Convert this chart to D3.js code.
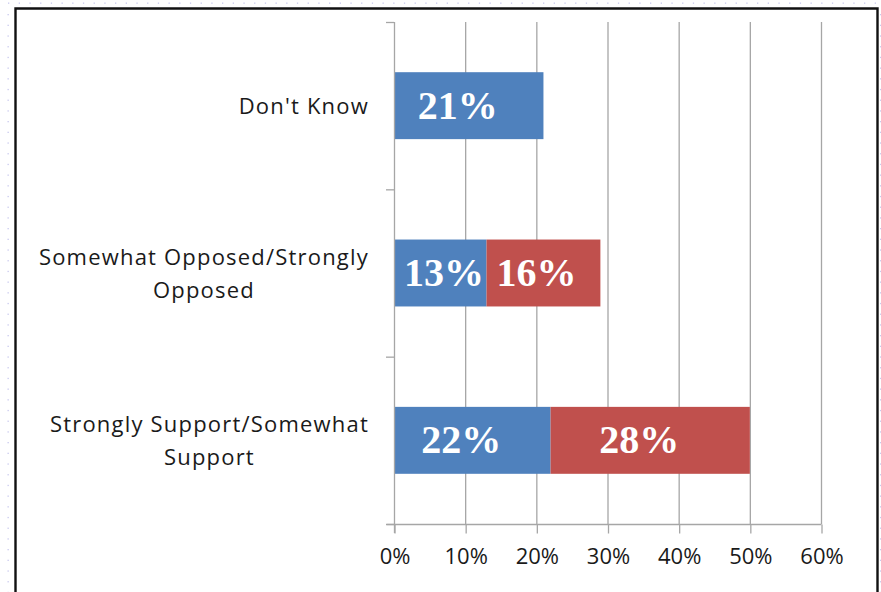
<!DOCTYPE html>
<html>
<head>
<meta charset="utf-8">
<script src="https://cdn.jsdelivr.net/npm/d3@7"></script>
<style>
  html, body { margin: 0; padding: 0; background: #fff; }
  svg { display: block; }
</style>
</head>
<body>
<svg id="chart" width="881" height="592"></svg>
<script>
// Survey responses, top to bottom
const categories = [
  "Don't Know",
  "Somewhat Opposed/Strongly Opposed",
  "Strongly Support/Somewhat Support"
];
// First-named answer of each pair (blue) and second-named answer (red), in %
const firstShare  = [21, 13, 22];
const secondShare = [0, 16, 28];
const tickValues  = [0, 10, 20, 30, 40, 50, 60];

const blue = "#4F81BD", red = "#C0504D", gridColor = "#A6A6A6";

const svg = d3.select("#chart");
const W = 881, H = 592;

// Faint dotted page guides outside the frame
const dots = svg.append("g").attr("fill", "#C9C9EE");
for (let x = 8; x < W; x += 10.7) dots.append("rect").attr("x", x).attr("y", 2.5).attr("width", 1.3).attr("height", 1.3);
for (let y = 14; y < H; y += 10.7) {
  dots.append("rect").attr("x", 7.5).attr("y", y).attr("width", 1.3).attr("height", 1.3);
  dots.append("rect").attr("x", 880).attr("y", y).attr("width", 1).attr("height", 1.3);
}

// Chart frame
svg.append("path")
  .attr("d", `M15.5,${H + 5} V8.5 H877.5 V${H + 5}`)
  .attr("fill", "none").attr("stroke", "#111").attr("stroke-width", 2.4);

const plot = { left: 394, right: 821, top: 22, bottom: 524 };

const x = d3.scaleLinear().domain([0, 60]).range([plot.left, plot.right]);
const y = d3.scaleBand().domain(categories).range([plot.top, plot.bottom])
  .paddingInner(0.6).paddingOuter(0.3);
const step = y.step();

// Vertical gridlines
svg.append("g").selectAll("line").data(tickValues.slice(1)).join("line")
  .attr("x1", d => x(d) + 0.5).attr("x2", d => x(d) + 0.5)
  .attr("y1", plot.top).attr("y2", plot.bottom)
  .attr("stroke", gridColor).attr("stroke-width", 1.3);

// Bars
const rows = categories.map((c, i) => ({ c, a: firstShare[i], b: secondShare[i] }));
const bars = svg.append("g");
bars.selectAll("rect.a").data(rows).join("rect").attr("class", "a")
  .attr("x", x(0)).attr("y", d => y(d.c))
  .attr("width", d => x(d.a) - x(0)).attr("height", y.bandwidth())
  .attr("fill", blue);
bars.selectAll("rect.b").data(rows.filter(d => d.b > 0)).join("rect").attr("class", "b")
  .attr("x", d => x(d.a)).attr("y", d => y(d.c))
  .attr("width", d => x(d.a + d.b) - x(d.a)).attr("height", y.bandwidth())
  .attr("fill", red);

// Value labels inside segments
const segs = [];
rows.forEach(d => {
  segs.push({ c: d.c, start: 0, v: d.a });
  if (d.b > 0) segs.push({ c: d.c, start: d.a, v: d.b });
});
svg.append("g").selectAll("text").data(segs).join("text")
  .attr("x", d => {
    const x0 = x(d.start), x1 = x(d.start + d.v);
    return Math.max((x0 + x1) / 2 - 11, x0 + 50);
  })
  .attr("y", d => y(d.c) + y.bandwidth() / 2 + 13)
  .attr("text-anchor", "middle")
  .attr("font-family", "'Liberation Serif', 'DejaVu Serif', serif")
  .attr("font-weight", "bold").attr("font-size", 40)
  .attr("fill", "#fff")
  .text(d => d.v + "%");

// Y axis line and category ticks
svg.append("line")
  .attr("x1", plot.left + 0.5).attr("x2", plot.left + 0.5)
  .attr("y1", plot.top).attr("y2", plot.bottom + 9)
  .attr("stroke", gridColor).attr("stroke-width", 1.3);
const bounds = d3.range(categories.length + 1).map(i => plot.top + i * step);
svg.append("g").selectAll("line").data(bounds).join("line")
  .attr("x1", plot.left - 8).attr("x2", plot.left)
  .attr("y1", d => d + 0.5).attr("y2", d => d + 0.5)
  .attr("stroke", gridColor).attr("stroke-width", 1.3);

// X axis
const xAxis = d3.axisBottom(x).tickValues(tickValues).tickFormat(d => d + "%")
  .tickSize(9).tickPadding(15);
const gx = svg.append("g").attr("transform", `translate(0.5,${plot.bottom + 0.5})`).call(xAxis);
gx.select(".domain").attr("stroke", gridColor).attr("stroke-width", 1.3)
  .attr("d", `M${plot.left - 8},0H${plot.right}`);
gx.selectAll(".tick line").attr("stroke", gridColor).attr("stroke-width", 1.3);
gx.selectAll(".tick text")
  .attr("font-family", "'Open Sans', sans-serif").attr("font-size", 22)
  .attr("fill", "#1a1a1a");

// Category labels, wrapped and centred within a block right-aligned to the axis
const labelRight = 369, maxWidth = 345, lineH = 33;
const labels = svg.append("g")
  .attr("font-family", "'Open Sans', sans-serif").attr("font-size", 22)
  .attr("letter-spacing", 1.2).attr("fill", "#1a1a1a");
categories.forEach(c => {
  const g = labels.append("g");
  const words = c.split(" ");
  const lines = [];
  let cur = [];
  const probe = g.append("text");
  words.forEach(w => {
    const trial = cur.concat(w).join(" ");
    probe.text(trial);
    if (cur.length && probe.node().getComputedTextLength() > maxWidth) {
      lines.push(cur.join(" "));
      cur = [w];
    } else cur.push(w);
  });
  lines.push(cur.join(" "));
  probe.remove();
  const texts = g.selectAll("text").data(lines).join("text").text(d => d);
  const widest = d3.max(texts.nodes(), n => n.getComputedTextLength());
  const cx = labelRight - widest / 2;
  const cy = y(c) + y.bandwidth() / 2;
  texts.attr("x", cx).attr("text-anchor", "middle")
    .attr("y", (d, i) => cy + 8 + (i - (lines.length - 1) / 2) * lineH);
});
</script>
</body>
</html>
